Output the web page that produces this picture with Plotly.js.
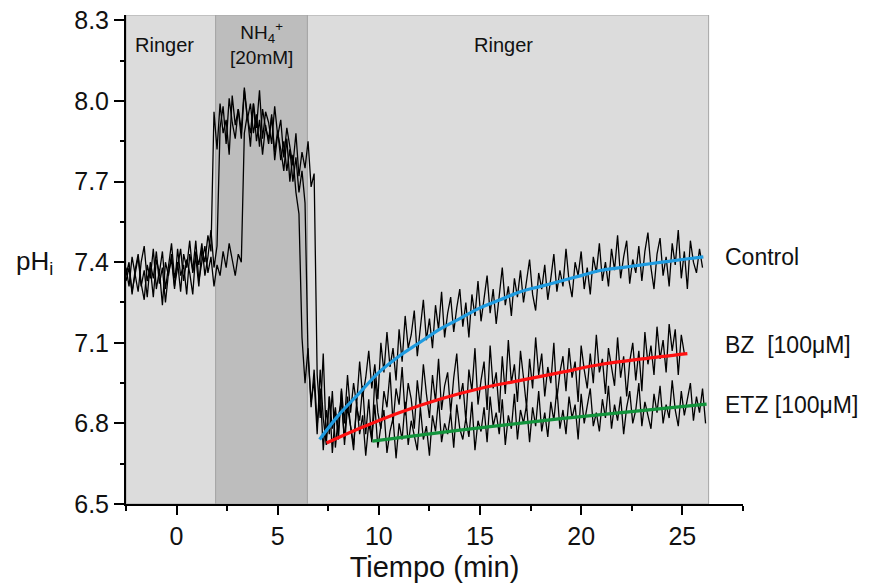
<!DOCTYPE html>
<html>
<head>
<meta charset="utf-8">
<script src="https://cdn.plot.ly/plotly-3.0.1.min.js"></script>
<style>html,body{margin:0;padding:0;background:#fff;}#chart{width:869px;height:587px;}</style>
</head>
<body>
<div id="chart"></div>
<script>
// ---- data (time in min, pHi) ----
const sampleStart = -2.5;   // first sample time (min)
const sampleStep = 0.15;    // sampling interval (min)

const controlPH = [
7.38,7.31,7.42,7.35,7.29,7.40,7.46,7.33,7.38,7.27,7.41,7.36,7.44,7.30,7.39,7.47,7.34,7.40,7.29,7.43,7.38,7.48,7.36,7.42,7.31,7.45,7.40,7.50,7.44,
7.96,7.82,7.99,7.88,7.93,7.80,8.02,7.91,7.97,7.86,8.04,7.93,7.99,7.88,7.95,7.83,7.97,7.90,7.86,7.94,7.81,7.89,7.78,7.85,7.74,7.82,7.70,7.79,7.66,7.74,7.62,
7.05,6.88,6.96,6.76,7.00,6.82,6.72,6.90,6.78,6.86,
6.74,6.93,6.80,6.98,6.84,6.95,6.87,7.03,6.90,6.97,
7.07,6.93,7.02,6.89,7.10,6.99,7.14,7.01,7.08,6.96,
7.15,7.03,7.20,7.08,7.13,7.22,7.05,7.17,7.26,7.11,
7.19,7.08,7.24,7.15,7.29,7.12,7.21,7.27,7.14,7.23,
7.30,7.16,7.25,7.12,7.28,7.20,7.33,7.18,7.26,7.35,
7.21,7.30,7.17,7.28,7.38,7.24,7.31,7.20,7.34,7.27,
7.37,7.25,7.33,7.41,7.28,7.22,7.36,7.30,7.39,7.26,
7.34,7.43,7.29,7.37,7.31,7.45,7.33,7.27,7.40,7.35,
7.44,7.30,7.38,7.28,7.42,7.36,7.47,7.33,7.40,7.31,
7.45,7.37,7.50,7.34,7.42,7.48,7.32,7.41,7.36,7.46,
7.33,7.44,7.51,7.38,7.30,7.43,7.49,7.35,7.42,7.31,
7.47,7.39,7.52,7.34,7.44,7.30,7.48,7.40,7.36,7.45,7.38];

const bzPH = [
7.35,7.40,7.28,7.37,7.43,7.32,7.26,7.39,7.34,7.45,7.30,7.37,7.24,7.40,7.35,7.43,7.31,7.38,7.45,7.33,7.41,7.36,7.28,7.44,7.39,7.47,7.35,7.42,7.52,7.38,7.46,
7.90,7.98,7.84,8.01,7.92,7.86,7.97,7.89,8.05,7.94,7.88,7.99,7.85,7.93,7.80,7.91,7.84,7.95,7.78,7.88,7.82,7.74,7.86,7.70,7.80,7.66,
7.58,7.12,6.95,7.08,6.86,7.00,6.79,6.93,6.70,6.85,
6.76,6.92,6.71,6.83,6.88,6.74,6.90,6.79,6.72,6.86,
6.81,6.94,6.76,6.89,6.73,6.97,6.84,6.78,6.92,6.86,
6.99,6.80,6.93,6.87,7.01,6.83,6.95,6.89,6.78,6.96,
6.86,7.02,6.91,6.82,6.98,6.88,7.04,6.85,6.94,6.99,
6.84,6.97,7.06,6.89,6.95,6.81,7.00,6.92,7.08,6.87,
6.96,7.03,6.85,7.09,6.93,6.99,6.84,7.05,6.91,7.11,
6.95,7.02,6.88,7.07,6.97,6.86,7.04,6.93,7.12,6.98,
7.06,6.90,7.01,6.95,7.10,6.89,6.99,7.05,6.92,7.08,
6.97,7.03,6.88,7.09,7.00,6.93,7.06,6.95,7.13,6.99,
7.04,6.91,7.08,7.01,6.94,7.12,6.97,7.05,6.90,7.03,
7.10,6.96,7.07,6.92,7.14,7.02,7.09,6.98,7.16,7.04,
7.11,6.99,7.17,7.07,7.15,6.98,7.13,7.06];

const etzPH = [
7.33,7.38,7.29,7.36,7.42,7.31,7.37,7.27,7.40,7.34,7.44,7.32,7.38,7.25,7.36,7.41,7.30,7.45,7.35,7.39,7.28,7.43,7.37,7.48,7.33,7.40,7.46,7.36,7.42,7.31,7.39,7.35,7.44,7.38,7.47,7.41,7.35,7.43,7.40,
7.88,7.95,7.83,7.99,7.90,8.04,7.86,7.96,7.92,7.84,7.98,7.87,7.93,7.79,7.90,7.83,7.76,7.88,7.72,7.81,7.75,7.85,7.68,7.73,
6.98,6.82,7.06,6.74,6.90,6.69,6.84,6.77,6.92,6.72,
6.86,6.79,6.70,6.88,6.76,6.83,6.68,6.80,6.74,6.87,
6.71,6.79,6.85,6.69,6.77,6.82,6.67,6.80,6.74,6.88,
6.72,6.81,6.76,6.70,6.86,6.74,6.79,6.68,6.83,6.77,
6.89,6.73,6.80,6.76,6.84,6.71,6.87,6.78,6.74,6.82,
6.75,6.88,6.70,6.81,6.77,6.86,6.73,6.90,6.79,6.84,
6.76,6.89,6.72,6.83,6.78,6.91,6.74,6.85,6.80,6.87,
6.73,6.86,6.79,6.92,6.77,6.84,6.75,6.88,6.81,6.93,
6.78,6.85,6.76,6.90,6.82,6.87,6.74,6.91,6.80,6.86,
6.93,6.79,6.84,6.77,6.89,6.82,6.94,6.78,6.87,6.81,
6.90,6.76,6.86,6.92,6.80,6.85,6.95,6.79,6.88,6.83,
6.78,6.91,6.84,6.94,6.80,6.87,6.82,6.96,6.85,6.79,
6.92,6.83,6.89,6.95,6.81,6.90,6.84,6.93,6.80];

// recovery fits
const controlFitT = [7.07, 8, 9, 10, 11, 12, 13, 14, 15, 16, 17, 18, 19, 20, 21, 22, 23, 24, 25, 26.04];
const controlFitPH = [6.74, 6.83, 6.91, 6.99, 7.05, 7.10, 7.15, 7.19, 7.23, 7.26, 7.29, 7.31, 7.33, 7.35, 7.37, 7.38, 7.39, 7.40, 7.41, 7.42];
const bzFitT = [7.41, 9, 11, 13, 15, 17, 19, 21, 23, 25.25];
const bzFitPH = [6.727, 6.78, 6.84, 6.89, 6.93, 6.96, 6.99, 7.02, 7.04, 7.06];
const etzFitT = [9.68, 14, 19, 26.2];
const etzFitPH = [6.734, 6.775, 6.818, 6.872];

// perfusion periods
const periodStart = [-2.5, 1.93, 6.47];
const periodEnd = [1.93, 6.47, 26.3];
const periodNames = ["Ringer", "NH<sub>4</sub><sup>+</sup><br>[20mM]", "Ringer"];

// series labels
const seriesNames = ["Control", "BZ  [100μM]", "ETZ [100μM]"];
const seriesLabelPH = [7.42, 7.09, 6.868];

const xTickVals = [0, 5, 10, 15, 20, 25];
const yTickVals = [6.5, 6.8, 7.1, 7.4, 7.7, 8.0, 8.3];

// ---- build ----
function timesFor(arr) { return arr.map((_, i) => +(sampleStart + i * sampleStep).toFixed(3)); }

const FONT = 'Liberation Sans, Arial, sans-serif';
const blackLine = {color: '#000', width: 1.3};
const traces = [
  {x: timesFor(controlPH), y: controlPH, mode: 'lines', line: blackLine, hoverinfo: 'skip'},
  {x: timesFor(bzPH), y: bzPH, mode: 'lines', line: blackLine, hoverinfo: 'skip'},
  {x: timesFor(etzPH), y: etzPH, mode: 'lines', line: blackLine, hoverinfo: 'skip'},
  {x: controlFitT, y: controlFitPH, mode: 'lines', line: {color: '#1e9be0', width: 3.2, shape: 'spline'}, hoverinfo: 'skip'},
  {x: bzFitT, y: bzFitPH, mode: 'lines', line: {color: '#ff1010', width: 3.2, shape: 'spline'}, hoverinfo: 'skip'},
  {x: etzFitT, y: etzFitPH, mode: 'lines', line: {color: '#12943c', width: 3.2, shape: 'spline'}, hoverinfo: 'skip'}
];

const yTop = 8.32;
const shapes = [];
const fills = ['#dcdcdc', '#bdbdbd', '#dcdcdc'];
periodStart.forEach((s, i) => {
  shapes.push({type: 'rect', xref: 'x', yref: 'y', x0: s, x1: periodEnd[i], y0: 6.5, y1: yTop,
    fillcolor: fills[i], line: {color: '#a6a6a6', width: 1}, layer: 'below'});
});

const annotations = [];
const labelY = [8.207, 8.215, 8.207];
const labelSize = [20, 19, 20];
periodStart.forEach((s, i) => {
  annotations.push({x: (s + periodEnd[i]) / 2 + (i === 0 ? -0.3 : (i === 2 ? -0.2 : 0)), y: labelY[i], xref: 'x', yref: 'y',
    text: periodNames[i], showarrow: false, font: {family: FONT, size: labelSize[i], color: '#111'}});
});
seriesNames.forEach((n, i) => {
  annotations.push({x: 27.0, y: seriesLabelPH[i], xref: 'x', yref: 'y', xanchor: 'left', text: n,
    showarrow: false, font: {family: FONT, size: 23, color: '#111'}});
});
annotations.push({x: -0.148, y: 7.4, xref: 'paper', yref: 'y', xanchor: 'center', text: 'pH<sub>i</sub>',
  showarrow: false, font: {family: FONT, size: 26, color: '#111'}});

const layout = {
  width: 869, height: 587,
  margin: {l: 126, r: 126, t: 15, b: 83},
  paper_bgcolor: '#fff', plot_bgcolor: '#fff',
  showlegend: false,
  font: {family: FONT, color: '#111'},
  xaxis: {
    range: [-2.5, 28], showgrid: false, zeroline: false,
    showline: true, linecolor: '#000', linewidth: 2,
    ticks: 'outside', ticklen: 9, tickwidth: 2, tickcolor: '#000',
    tickmode: 'array', tickvals: xTickVals, ticktext: xTickVals.map(String),
    tickfont: {family: FONT, size: 25, color: '#111'},
    minor: {tickmode: 'array', tickvals: [-2.5, 2.5, 7.5, 12.5, 17.5, 22.5, 28], ticks: 'outside', ticklen: 5, tickwidth: 2, tickcolor: '#000', showgrid: false},
    title: {text: 'Tiempo (min)', font: {family: FONT, size: 29, color: '#111'}, standoff: 8}
  },
  yaxis: {
    range: [6.5, yTop], showgrid: false, zeroline: false,
    showline: true, linecolor: '#000', linewidth: 2,
    ticks: 'outside', ticklen: 10, tickwidth: 2, tickcolor: '#000',
    tickmode: 'array', tickvals: yTickVals, ticktext: yTickVals.map(v => v.toFixed(1)),
    tickfont: {family: FONT, size: 25, color: '#111'},
    minor: {tickmode: 'array', tickvals: [6.65, 6.95, 7.25, 7.55, 7.85, 8.15], ticks: 'outside', ticklen: 4, tickwidth: 2, tickcolor: '#000', showgrid: false}
  },
  shapes: shapes,
  annotations: annotations
};

Plotly.newPlot('chart', traces, layout, {staticPlot: true, displayModeBar: false});
</script>
</body>
</html>
